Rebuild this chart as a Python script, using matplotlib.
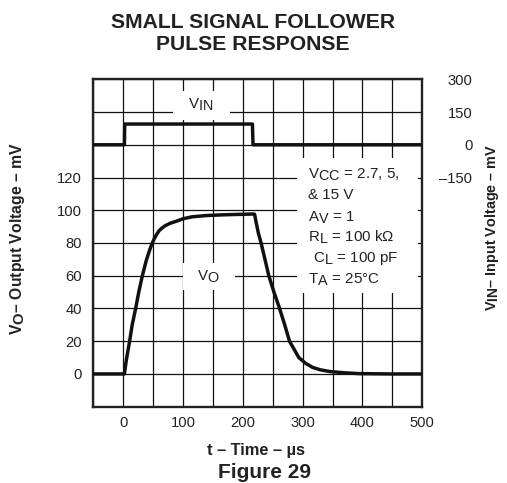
import matplotlib
matplotlib.use("Agg")
import matplotlib.pyplot as plt
import matplotlib._mathtext as _mt
from matplotlib.patches import Rectangle

plt.rcParams['font.family'] = ['Liberation Sans', 'DejaVu Sans']
plt.rcParams['mathtext.fontset'] = 'custom'
plt.rcParams['mathtext.rm'] = 'Liberation Sans'
plt.rcParams['mathtext.it'] = 'Liberation Sans'
plt.rcParams['mathtext.bf'] = 'Liberation Sans:bold'
plt.rcParams['mathtext.default'] = 'regular'
_mt.SHRINK_FACTOR = 0.95  # subscripts nearly full size, as in the reference

# ---- data ----
vin_t = [-50, 2, 2.5, 216, 217, 500]
vin_mv = [0, 0, 95, 95, 0, 0]

vo_t = [-50, 0, 2, 5, 10.7, 15, 20.8, 26, 32, 38.6, 44, 48.7, 52, 56, 60, 65, 70, 78, 88, 100, 115, 140, 166, 195, 216,
        219.6, 222, 226, 230.5, 237, 243.4, 252, 261.4, 270, 278, 293.6, 305, 316.6, 330, 345, 370, 395, 450, 500]
vo_mv = [0, 0, 0, 8, 20, 30, 40, 50, 60, 69.4, 75.5, 80, 82.7, 85.3, 87.5, 89.2, 90.5, 92, 93.2, 94.8, 96, 96.8, 97.2, 97.5, 97.7,
         97.6, 93, 86, 80, 70, 60, 50, 40, 30, 20, 10, 6.5, 4, 2.5, 1.5, 0.7, 0.2, 0, 0]

x_grid = list(range(-50, 501, 50))
x_labels = {0: '0', 100: '100', 200: '200', 300: '300', 400: '400', 500: '500'}
y_grid = list(range(-20, 181, 20))
y_labels = {0: '0', 20: '20', 40: '40', 60: '60', 80: '80', 100: '100', 120: '120'}
right_ticks = [-150, 0, 150, 300]
right_labels = ['\u2013150', '0', '150', '300']

W, H = 507, 483
fig = plt.figure(figsize=(W / 100, H / 100), dpi=100)
ax = fig.add_axes([93.3 / W, 1 - 406.7 / H, (422.3 - 93.3) / W, (406.7 - 79.3) / H])
ax.set_xlim(-50, 500)
ax.set_ylim(-20, 180)
ax.set_axisbelow(True)
ax.set_xticks(x_grid)
ax.set_xticklabels([x_labels.get(v, '') for v in x_grid])
ax.set_yticks(y_grid)
ax.set_yticklabels([y_labels.get(v, '') for v in y_grid])
ax.grid(True, color='#111111', linewidth=0.9)
ax.tick_params(length=0, labelsize=10.6, colors='#222222')
ax.tick_params(axis='y', pad=8)
ax.tick_params(axis='x', pad=7)
for s in ax.spines.values():
    s.set_linewidth(1.7)
    s.set_color('#222222')

ax2 = ax.twinx()
ax2.set_ylim(-1200, 300)
ax2.set_yticks(right_ticks)
ax2.set_yticklabels(right_labels)
ax2.tick_params(length=0, labelsize=10.6, colors='#222222', pad=36)
for lab in ax2.get_yticklabels():
    lab.set_horizontalalignment('right')
for s in ax2.spines.values():
    s.set_visible(False)


def wbox(x0, y0, x1, y1):
    ax.add_patch(Rectangle((x0 / W, 1 - y1 / H), (x1 - x0) / W, (y1 - y0) / H,
                           transform=fig.transFigure, facecolor='white', edgecolor='none', zorder=1))


wbox(173, 91, 230, 120)
wbox(183, 263, 235, 290)
wbox(297, 158, 418, 293)

ax.plot(vo_t, vo_mv, color='#111111', linewidth=2.5, zorder=3)
ax2.plot(vin_t, vin_mv, color='#111111', linewidth=2.5, zorder=3)

tc = '#222222'


def ptext(x, y, s, fontsize=10, **kw):
    fig.text(x / W, 1 - y / H, s, fontsize=fontsize, color=tc, **kw)


af = 10.9
ptext(188, 108.5, r'V$_{IN}$', ha='left', va='baseline', fontsize=af)
ptext(197, 281, r'V$_{O}$', ha='left', va='baseline', fontsize=af)
ptext(308, 178.3, r'V$_{CC}$ = 2.7, 5,', ha='left', va='baseline', fontsize=af)
ptext(308, 199.3, '& 15 V', ha='left', va='baseline', fontsize=af)
ptext(308, 221.7, r'A$_{V}$ = 1', ha='left', va='baseline', fontsize=af)
ptext(308, 241.7, r'R$_{L}$ = 100 k$\Omega$', ha='left', va='baseline', fontsize=af)
ptext(313, 261.7, r'C$_{L}$ = 100 pF', ha='left', va='baseline', fontsize=af)
ptext(308, 283.3, r'T$_{A}$ = 25°C', ha='left', va='baseline', fontsize=af)

ptext(253, 28.3, 'SMALL SIGNAL FOLLOWER', ha='center', va='baseline', fontsize=15.2, fontweight='bold')
ptext(253, 50, 'PULSE RESPONSE', ha='center', va='baseline', fontsize=15.2, fontweight='bold')
ptext(256, 454.5, 't \u2013 Time \u2013 \u00b5s', ha='center', va='baseline', fontsize=11.8, fontweight='bold')
ptext(265, 478, 'Figure 29', ha='center', va='baseline', fontsize=15, fontweight='bold')
ptext(18, 239, 'V$_{O}$\u2013 Output Voltage \u2013 mV', ha='center', va='center',
      fontsize=11.3, fontweight='bold', rotation=90)
ptext(492, 227, 'V$_{IN}$\u2013 Input Voltage \u2013 mV', ha='center', va='center',
      fontsize=10.4, fontweight='bold', rotation=90)

fig.savefig('out.png', dpi=100)
